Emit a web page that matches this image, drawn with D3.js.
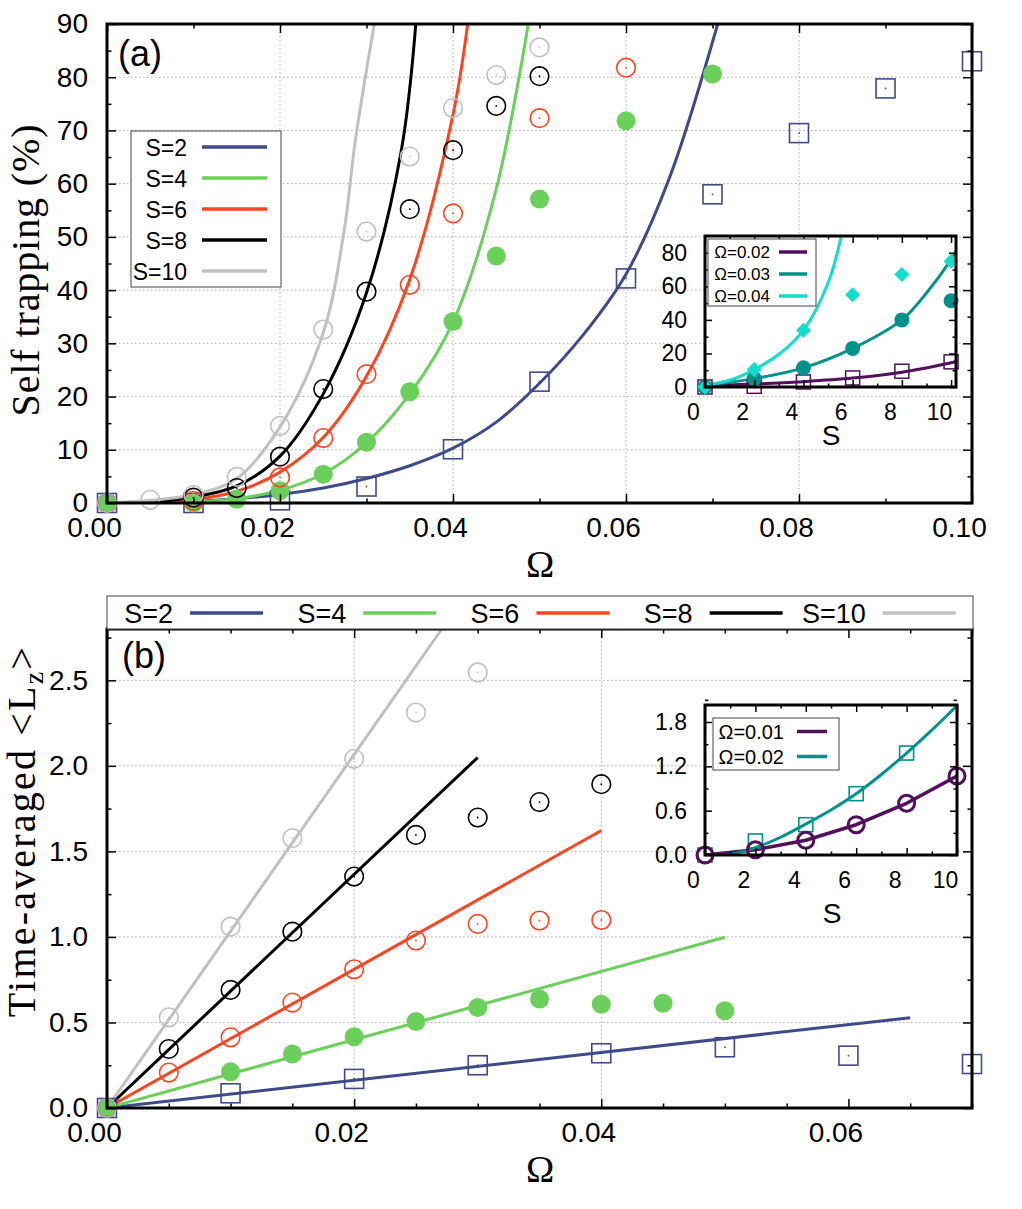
<!DOCTYPE html>
<html>
<head>
<meta charset="utf-8">
<script src="https://cdn.jsdelivr.net/npm/d3@7"></script>
<style>
  body { margin: 0; background: #fff; }
  svg { display: block; font-family: "Liberation Sans", Arial, sans-serif; }
</style>
</head>
<body>
<svg id="fig" width="1022" height="1209"></svg>
<script>
// ---------- data, panel (a): self trapping (%) vs Omega ----------
var seriesNames = ["S=2", "S=4", "S=6", "S=8", "S=10"];
var trapS2 = [[0,0],[0.01,0],[0.02,0.5],[0.03,3.1],[0.04,10.1],[0.05,22.8],[0.06,42.2],[0.07,58.0],[0.08,69.5],[0.09,77.9],[0.1,83.0]];
var trapS4 = [[0,0],[0.01,0],[0.015,0.7],[0.02,2.3],[0.025,5.4],[0.03,11.4],[0.035,20.9],[0.04,34.1],[0.045,46.4],[0.05,57.1],[0.06,71.8],[0.07,80.6]];
var trapS6 = [[0,0],[0.01,0.4],[0.02,4.8],[0.025,12.2],[0.03,24.2],[0.035,41.0],[0.04,54.4],[0.05,72.3],[0.06,81.8]];
var trapS8 = [[0,0],[0.01,1.0],[0.015,2.8],[0.02,8.7],[0.025,21.4],[0.03,39.7],[0.035,55.2],[0.04,66.3],[0.045,74.6],[0.05,80.2]];
var trapS10 = [[0,0],[0.005,0.6],[0.01,1.5],[0.015,4.9],[0.02,14.5],[0.025,32.6],[0.03,51.0],[0.035,65.1],[0.04,74.2],[0.045,80.4],[0.05,85.6]];
// fitted curves
var fitS2 = [[0,0],[0.005,0.1],[0.01,0.3],[0.015,0.8],[0.02,1.6],[0.025,2.8],[0.03,4.6],[0.035,7],[0.04,10.3],[0.045,15.2],[0.05,22.5],[0.055,31.5],[0.06,43],[0.065,61],[0.0706,90]];
var fitS4 = [[0,0],[0.005,0.05],[0.01,0.2],[0.015,0.8],[0.02,2.4],[0.025,5.5],[0.03,11.3],[0.035,20.5],[0.04,34],[0.045,59],[0.0487,90]];
var fitS6 = [[0,0],[0.005,0.1],[0.01,0.6],[0.015,2.2],[0.02,5.8],[0.025,12.3],[0.03,23.8],[0.035,42],[0.04,73],[0.0417,90]];
var fitS8 = [[0,0],[0.005,0.2],[0.01,1.1],[0.015,3.2],[0.02,8.8],[0.025,20.5],[0.03,39.5],[0.034,66],[0.0357,90]];
var fitS10 = [[0,0],[0.005,0.5],[0.01,1.6],[0.015,4.6],[0.02,14.3],[0.025,32],[0.0274,51],[0.0287,68],[0.0309,90]];

// inset (a): self trapping vs S
var insetANames = ["\u03A9=0.02", "\u03A9=0.03", "\u03A9=0.04"];
var trapW02 = [[0,0],[2,0.4],[4,3.0],[6,5.4],[8,9.4],[10,15]];
var trapW03 = [[0,0],[2,5.0],[4,11.4],[6,23.0],[8,40.0],[10,51.4]];
var trapW04 = [[0,0],[2,10.4],[4,33.8],[6,55.0],[8,67.0],[10,75.0]];
var fitW02 = [[0,1],[2,1.8],[4,3.2],[6,5.3],[8,8.8],[10,14.5],[10.2,15.3]];
var fitW03 = [[0,1],[2,5],[4,11.4],[6,23],[8,40],[9,56],[10,76],[10.2,81]];
var fitW04 = [[0,1],[1,4],[2,10.4],[3,19.5],[4,33.8],[5,62],[5.54,90]];

// ---------- data, panel (b): time-averaged <Lz> vs Omega ----------
var lzS2 = [[0,0],[0.01,0.086],[0.02,0.17],[0.03,0.25],[0.04,0.32],[0.05,0.355],[0.06,0.306],[0.07,0.257]];
var lzS4 = [[0,0],[0.01,0.212],[0.015,0.316],[0.02,0.417],[0.025,0.505],[0.03,0.587],[0.035,0.637],[0.04,0.606],[0.045,0.612],[0.05,0.569]];
var lzS6 = [[0,0],[0.005,0.207],[0.01,0.413],[0.015,0.616],[0.02,0.811],[0.025,0.979],[0.03,1.076],[0.035,1.096],[0.04,1.099]];
var lzS8 = [[0,0],[0.005,0.345],[0.01,0.69],[0.015,1.031],[0.02,1.353],[0.025,1.596],[0.03,1.698],[0.035,1.788],[0.04,1.893]];
var lzS10 = [[0,0],[0.005,0.53],[0.01,1.06],[0.015,1.577],[0.02,2.041],[0.025,2.312],[0.03,2.546]];
var lzLine2 = [[0,0],[0.065,0.528]];
var lzLine4 = [[0,0],[0.05,0.998]];
var lzLine6 = [[0,0],[0.04,1.622]];
var lzLine8 = [[0,0],[0.03,2.049]];
var lzLine10 = [[0,0],[0.0271,2.8]];

// inset (b): <Lz> vs S
var insetBNames = ["\u03A9=0.01", "\u03A9=0.02"];
var lzW01 = [[0,0],[2,0.07],[4,0.2],[6,0.41],[8,0.70],[10,1.07]];
var lzW02 = [[0,0],[2,0.19],[4,0.41],[6,0.83],[8,1.38]];
var fitLzW02 = [[0,0],[1,0.01],[2,0.1],[3,0.24],[4,0.42],[5,0.61],[6,0.83],[7,1.09],[8,1.38],[9,1.69],[10,2.02]];

// tick labels
var ticksOmegaA = [0, 0.02, 0.04, 0.06, 0.08, 0.10];
var ticksTrap = [0, 10, 20, 30, 40, 50, 60, 70, 80, 90];
var ticksOmegaB = [0, 0.02, 0.04, 0.06];
var ticksLz = [0, 0.5, 1.0, 1.5, 2.0, 2.5];
var ticksS = [0, 2, 4, 6, 8, 10];
var ticksTrapInset = [0, 20, 40, 60, 80];
var ticksLzInset = [0, 0.6, 1.2, 1.8];

var colS = ["#3f4a8a", "#6bcf5b", "#ff4422", "#000000", "#c0c0c0"];
var purple = "#520f5c", teal = "#00928a", cyan = "#12dccb";

var svg = d3.select("#fig");
svg.append("rect").attr("width", 1022).attr("height", 1209).attr("fill", "#fff");
var defs = svg.append("defs");
var serif = "'Liberation Serif', 'Times New Roman', serif";

function minorOf(step, lo, hi, major) {
  return d3.range(lo, hi + step / 2, step).filter(function(v){
    return !major.some(function(m){ return Math.abs(m - v) < step / 10; });
  });
}

function panel(o) {
  var g = svg.append("g");
  var x = d3.scaleLinear().domain(o.xDomain).range([o.left, o.right]);
  var y = d3.scaleLinear().domain(o.yDomain).range([o.bottom, o.top]);
  if (o.fill) {
    g.append("rect").attr("x", o.left).attr("y", o.top)
      .attr("width", o.right - o.left).attr("height", o.bottom - o.top).attr("fill", "#fff");
  }
  if (o.grid) {
    var gg = g.append("g").attr("stroke", "#aaa").attr("stroke-width", 1).attr("stroke-dasharray", "1.5,2.5");
    o.xMajor.slice(1, -1).forEach(function(v){
      if (x(v) < o.right - 2) gg.append("line").attr("x1", x(v)).attr("x2", x(v)).attr("y1", o.top).attr("y2", o.bottom);
    });
    o.yMajor.forEach(function(v){
      if (y(v) > o.top + 2 && y(v) < o.bottom - 2) gg.append("line").attr("x1", o.left).attr("x2", o.right).attr("y1", y(v)).attr("y2", y(v));
    });
  }
  defs.append("clipPath").attr("id", "clip-" + o.name).append("rect")
    .attr("x", o.left).attr("y", o.top).attr("width", o.right - o.left).attr("height", o.bottom - o.top);
  return { g: g, x: x, y: y, o: o };
}

function axes(p) {
  var o = p.o, x = p.x, y = p.y;
  var g = p.g.append("g");
  var xMinor = minorOf(o.xMinorStep, o.xDomain[0], o.xDomain[1], o.xMajor);
  var yMinor = minorOf(o.yMinorStep, o.yDomain[0], o.yDomain[1], o.yMajor);

  var bot = g.append("g").attr("transform", "translate(0," + o.bottom + ")")
    .call(d3.axisBottom(x).tickValues(o.xMajor).tickSize(-o.tick).tickPadding(o.padX).tickFormat(o.xFmt));
  bot.selectAll("text").attr("dx", o.shift);
  bot.append("g").call(d3.axisBottom(x).tickValues(xMinor).tickSize(-o.tick / 2).tickFormat(""));

  var top = g.append("g").attr("transform", "translate(0," + o.top + ")")
    .call(d3.axisTop(x).tickValues(o.xMajor).tickSize(-o.tick).tickFormat(""));
  top.append("g").call(d3.axisTop(x).tickValues(xMinor).tickSize(-o.tick / 2).tickFormat(""));

  var lef = g.append("g").attr("transform", "translate(" + o.left + ",0)")
    .call(d3.axisLeft(y).tickValues(o.yMajor).tickSize(-o.tick).tickPadding(o.padY).tickFormat(o.yFmt));
  lef.append("g").call(d3.axisLeft(y).tickValues(yMinor).tickSize(-o.tick / 2).tickFormat(""));

  var rig = g.append("g").attr("transform", "translate(" + o.right + ",0)")
    .call(d3.axisRight(y).tickValues(o.yMajor).tickSize(-o.tick).tickFormat(""));
  rig.append("g").call(d3.axisRight(y).tickValues(yMinor).tickSize(-o.tick / 2).tickFormat(""));

  g.selectAll(".domain").remove();
  g.selectAll(".tick line").attr("stroke", "#000").attr("stroke-width", 1.5);
  g.selectAll("text").attr("fill", "#000")
    .style("font-size", o.font + "px").style("font-family", "'Liberation Sans', Arial, sans-serif");

  g.append("rect").attr("x", o.left).attr("y", o.top)
    .attr("width", o.right - o.left).attr("height", o.bottom - o.top)
    .attr("fill", "none").attr("stroke", "#000").attr("stroke-width", o.border);
}

function curve(p, data, color, width, smooth) {
  var line = d3.line().x(function(d){ return p.x(d[0]); }).y(function(d){ return p.y(d[1]); })
    .curve(smooth ? d3.curveCatmullRom.alpha(0.5) : d3.curveLinear);
  p.g.append("path").datum(data).attr("d", line)
    .attr("clip-path", "url(#clip-" + p.o.name + ")")
    .attr("fill", "none").attr("stroke", color).attr("stroke-width", width).attr("stroke-linejoin", "round");
}

function markers(p, data, kind, color, size, sw) {
  var g = p.g.append("g");
  data.forEach(function(d){
    var cx = p.x(d[0]), cy = p.y(d[1]);
    if (kind === "square") {
      g.append("rect").attr("x", cx - size / 2).attr("y", cy - size / 2).attr("width", size).attr("height", size)
        .attr("fill", "none").attr("stroke", color).attr("stroke-width", sw);
    } else if (kind === "circle") {
      g.append("circle").attr("cx", cx).attr("cy", cy).attr("r", size)
        .attr("fill", "none").attr("stroke", color).attr("stroke-width", sw);
    } else if (kind === "disc") {
      g.append("circle").attr("cx", cx).attr("cy", cy).attr("r", size).attr("fill", color);
    } else if (kind === "diamond") {
      g.append("path").attr("d", "M" + cx + "," + (cy - size) + "L" + (cx + size) + "," + cy +
        "L" + cx + "," + (cy + size) + "L" + (cx - size) + "," + cy + "Z").attr("fill", color);
    }
    if ((kind === "square" || kind === "circle") && p.o.dot) {
      g.append("circle").attr("cx", cx).attr("cy", cy).attr("r", 0.9).attr("fill", color);
    }
  });
}

// ================= panel (a) =================
var optA = { name: "a", left: 107, right: 972, top: 24, bottom: 503,
  xDomain: [0, 0.1], yDomain: [0, 90], xMajor: ticksOmegaA, yMajor: ticksTrap,
  xMinorStep: 0.01, yMinorStep: 5, xFmt: d3.format(".2f"), yFmt: d3.format("d"),
  tick: 9, padX: 14, padY: 19, shift: -13, font: 28, border: 3, grid: true, dot: true };
var pA = panel(optA);
var fitsA = [fitS2, fitS4, fitS6, fitS8, fitS10];
var trapsA = [trapS2, trapS4, trapS6, trapS8, trapS10];
var kindsA = ["square", "disc", "circle", "circle", "circle"];
fitsA.forEach(function(f, i){ curve(pA, f, colS[i], 3, true); });
trapsA.forEach(function(t, i){
  markers(pA, t, kindsA[i], colS[i], kindsA[i] === "square" ? 19 : (kindsA[i] === "disc" ? 9.5 : 9.3), 1.6);
});
axes(pA);

// legend (a)
var legA = svg.append("g");
legA.append("rect").attr("x", 131).attr("y", 131).attr("width", 150).attr("height", 156)
  .attr("fill", "#fff").attr("stroke", "#444").attr("stroke-width", 1);
seriesNames.forEach(function(n, i){
  var ly = 147 + i * 31;
  legA.append("text").attr("x", 187).attr("y", ly + 8.5).attr("text-anchor", "end")
    .style("font-size", "23px").text(n);
  legA.append("line").attr("x1", 202).attr("x2", 267).attr("y1", ly).attr("y2", ly)
    .attr("stroke", colS[i]).attr("stroke-width", 3.5);
});
svg.append("text").attr("x", 118).attr("y", 66).style("font-size", "36px").text("(a)");
svg.append("text").attr("transform", "translate(39,270) rotate(-90)").attr("text-anchor", "middle")
  .style("letter-spacing", "0.9px")
  .style("font-family", serif).style("font-size", "40px").text("Self trapping (%)");
svg.append("text").attr("x", 540).attr("y", 577).attr("text-anchor", "middle")
  .style("font-family", serif).style("font-size", "38px").text("\u03A9");

// inset (a)
var optIA = { name: "ia", left: 705, right: 956, top: 236, bottom: 387,
  xDomain: [0, 10.2], yDomain: [0, 90], xMajor: ticksS, yMajor: ticksTrapInset,
  xMinorStep: 1, yMinorStep: 10, xFmt: d3.format("d"), yFmt: d3.format("d"),
  tick: 7, padX: 17, padY: 18, shift: -12, font: 23, border: 3, grid: false, fill: true, dot: false };
var pIA = panel(optIA);
curve(pIA, fitW02, purple, 3, true);
curve(pIA, fitW03, teal, 3, true);
curve(pIA, fitW04, cyan, 3, true);
markers(pIA, trapW02, "square", purple, 14, 1.5);
markers(pIA, trapW03, "disc", teal, 7.5, 0);
markers(pIA, trapW04, "diamond", cyan, 7.5, 0);
axes(pIA);
var legIA = svg.append("g");
legIA.append("rect").attr("x", 708).attr("y", 239).attr("width", 108).attr("height", 67)
  .attr("fill", "#fff").attr("stroke", "#444").attr("stroke-width", 1);
[purple, teal, cyan].forEach(function(c, i){
  var ly = 252 + i * 22;
  legIA.append("text").attr("x", 770).attr("y", ly + 6).attr("text-anchor", "end")
    .style("font-size", "17px").text(insetANames[i]);
  legIA.append("line").attr("x1", 779).attr("x2", 807).attr("y1", ly).attr("y2", ly)
    .attr("stroke", c).attr("stroke-width", 3.5);
});
svg.append("text").attr("x", 831).attr("y", 445).attr("text-anchor", "middle")
  .style("font-size", "28px").text("S");

// ================= panel (b) =================
var optB = { name: "b", left: 107, right: 972, top: 629, bottom: 1108,
  xDomain: [0, 0.07], yDomain: [0, 2.8], xMajor: ticksOmegaB, yMajor: ticksLz,
  xMinorStep: 0.005, yMinorStep: 0.25, xFmt: d3.format(".2f"), yFmt: d3.format(".1f"),
  tick: 9, padX: 14, padY: 19, shift: -13, font: 28, border: 3, grid: true, dot: true };
var pB = panel(optB);
var linesB = [lzLine2, lzLine4, lzLine6, lzLine8, lzLine10];
var lzB = [lzS2, lzS4, lzS6, lzS8, lzS10];
linesB.forEach(function(l, i){ curve(pB, l, colS[i], 3, false); });
lzB.forEach(function(t, i){
  markers(pB, t, kindsA[i], colS[i], kindsA[i] === "square" ? 19 : (kindsA[i] === "disc" ? 9.5 : 9.3), 1.6);
});
axes(pB);

// legend (b), horizontal box above plot
var legB = svg.append("g");
legB.append("rect").attr("x", 107).attr("y", 596).attr("width", 866).attr("height", 33)
  .attr("fill", "#fff").attr("stroke", "#444").attr("stroke-width", 1);
seriesNames.forEach(function(n, i){
  var lx = 173 + i * 173.2;
  legB.append("text").attr("x", lx).attr("y", 623).attr("text-anchor", "end")
    .style("font-size", "27px").text(n);
  legB.append("line").attr("x1", lx + 17).attr("x2", lx + 90).attr("y1", 613).attr("y2", 613)
    .attr("stroke", colS[i]).attr("stroke-width", 3.5);
});
svg.append("text").attr("x", 122).attr("y", 668).style("font-size", "36px").text("(b)");
var tB = svg.append("text").attr("transform", "translate(35,831) rotate(-90)").attr("text-anchor", "middle")
  .style("letter-spacing", "2.2px")
  .style("font-family", serif).style("font-size", "40px");
tB.append("tspan").text("Time-averaged <L");
tB.append("tspan").attr("dy", 8).style("font-size", "28px").text("z");
tB.append("tspan").attr("dy", -8).text(">");
svg.append("text").attr("x", 540).attr("y", 1182).attr("text-anchor", "middle")
  .style("font-family", serif).style("font-size", "38px").text("\u03A9");

// inset (b)
var optIB = { name: "ib", left: 705, right: 957, top: 705, bottom: 855,
  xDomain: [0, 10], yDomain: [0, 2.03], xMajor: ticksS, yMajor: ticksLzInset,
  xMinorStep: 1, yMinorStep: 0.3, xFmt: d3.format("d"), yFmt: d3.format(".1f"),
  tick: 7, padX: 17, padY: 18, shift: -12, font: 23, border: 3, grid: false, fill: true, dot: false };
var pIB = panel(optIB);
curve(pIB, lzW01, purple, 3.5, false);
curve(pIB, fitLzW02, teal, 3, true);
markers(pIB, lzW02, "square", teal, 14, 1.6);
markers(pIB, lzW01, "circle", purple, 8, 3);
axes(pIB);
var legIB = svg.append("g");
legIB.append("rect").attr("x", 713).attr("y", 718).attr("width", 126).attr("height", 52)
  .attr("fill", "#fff").attr("stroke", "#444").attr("stroke-width", 1);
[purple, teal].forEach(function(c, i){
  var ly = 731.5 + i * 25;
  legIB.append("text").attr("x", 784).attr("y", ly + 7).attr("text-anchor", "end")
    .style("font-size", "20px").text(insetBNames[i]);
  legIB.append("line").attr("x1", 797).attr("x2", 827).attr("y1", ly).attr("y2", ly)
    .attr("stroke", c).attr("stroke-width", 3.5);
});
svg.append("text").attr("x", 832).attr("y", 923).attr("text-anchor", "middle")
  .style("font-size", "28px").text("S");
</script>
</body>
</html>
